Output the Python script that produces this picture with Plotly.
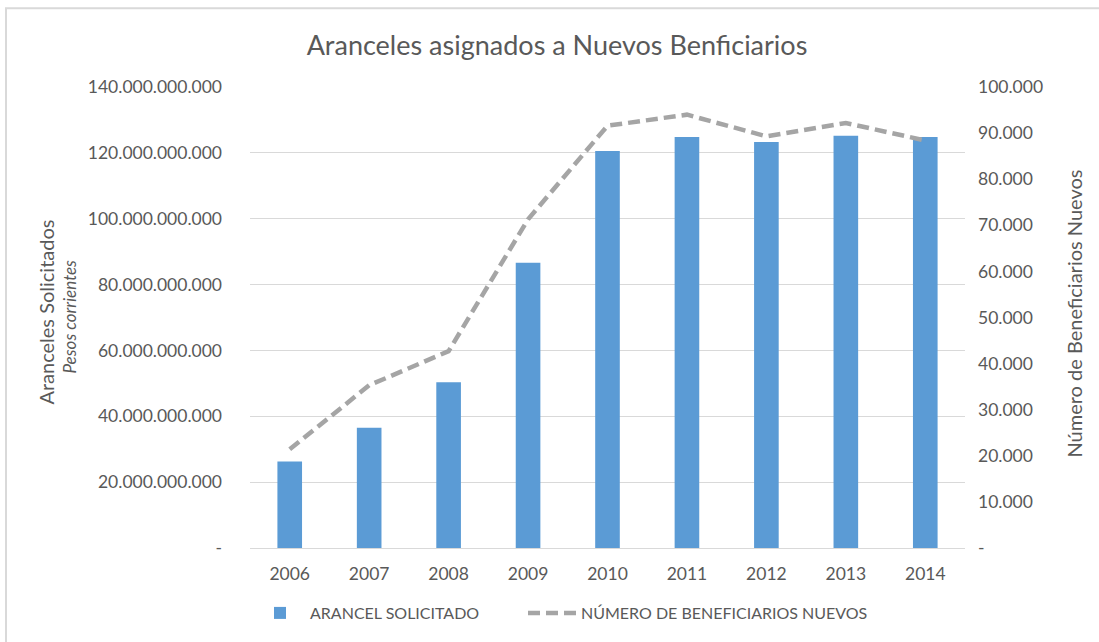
import plotly.graph_objects as go

years = ["2006", "2007", "2008", "2009", "2010", "2011", "2012", "2013", "2014"]
aranceles = [26.3e9, 36.5e9, 50.3e9, 86.6e9, 120.6e9, 124.8e9, 123.3e9, 125.2e9, 124.8e9]
beneficiarios = [21400, 35300, 42700, 71300, 91600, 94000, 89300, 92200, 88400]

left_tickvals = [0, 20e9, 40e9, 60e9, 80e9, 100e9, 120e9, 140e9]
left_ticktext = ["-", "20.000.000.000", "40.000.000.000", "60.000.000.000",
                 "80.000.000.000", "100.000.000.000", "120.000.000.000", "140.000.000.000"]
right_tickvals = [0, 10000, 20000, 30000, 40000, 50000, 60000, 70000, 80000, 90000, 100000]
right_ticktext = ["-", "10.000", "20.000", "30.000", "40.000", "50.000", "60.000",
                  "70.000", "80.000", "90.000", "100.000"]

FONT = "Lato"
TXT = "#595959"
W, H = 1099, 642
L, R, T, B = 250, 965, 87, 555
PW, PH = R - L, B - T


def px(x):
    return (x - L) / PW


def py(y):
    return (B - y) / PH


fig = go.Figure()
fig.add_trace(go.Bar(x=years, y=aranceles, name="ARANCEL SOLICITADO",
                     marker=dict(color="#5b9bd5", line=dict(width=0)), width=0.31,
                     legend="legend"))
fig.add_trace(go.Scatter(x=years, y=beneficiarios, name="NÚMERO DE BENEFICIARIOS NUEVOS",
                         mode="lines", yaxis="y2", legend="legend2",
                         line=dict(color="#a5a5a5", width=4.5, dash="12px,6px")))

fig.update_layout(
    width=W, height=H,
    margin=dict(l=L, r=W - R, t=T, b=H - B),
    paper_bgcolor="white", plot_bgcolor="white",
    font=dict(family=FONT, color=TXT, size=17.5),
    title=dict(text="Aranceles asignados a Nuevos Benficiarios", x=557 / W, xanchor="center",
               y=1 - 46 / H, yanchor="middle", font=dict(size=27, color=TXT, family=FONT)),
    xaxis=dict(showgrid=False, showline=True, linecolor="#d9d9d9", linewidth=1,
               ticks="", tickfont=dict(size=17.5, color=TXT), ticklabelstandoff=10),
    yaxis=dict(range=[0, 140e9], tickmode="array", tickvals=left_tickvals, ticktext=left_ticktext,
               showgrid=True, gridcolor="#d9d9d9", gridwidth=1, zeroline=False,
               ticks="", tickfont=dict(size=17.5, color=TXT), ticklabelstandoff=27),
    yaxis2=dict(range=[0, 100000], overlaying="y", side="right", tickmode="array",
                tickvals=right_tickvals, ticktext=right_ticktext, showgrid=False, zeroline=False,
                ticks="", tickfont=dict(size=17.5, color=TXT), ticklabelstandoff=12),
    legend=dict(orientation="h", x=px(250), xanchor="left", y=py(621), yanchor="middle",
                font=dict(size=16, color=TXT), itemwidth=50, bgcolor="rgba(0,0,0,0)"),
    legend2=dict(orientation="h", x=px(523), xanchor="left", y=py(621), yanchor="middle",
                 font=dict(size=16, color=TXT), itemwidth=48, bgcolor="rgba(0,0,0,0)"),
    showlegend=True,
)

fig.add_annotation(text="Aranceles Solicitados", xref="paper", yref="paper",
                   x=px(46), y=py(316), textangle=-90, showarrow=False,
                   font=dict(size=20, color=TXT, family=FONT), xanchor="center", yanchor="middle")
fig.add_annotation(text="<i>Pesos corrientes</i>", xref="paper", yref="paper",
                   x=px(70), y=py(320), textangle=-90, showarrow=False,
                   font=dict(size=17, color=TXT, family=FONT), xanchor="center", yanchor="middle")
fig.add_annotation(text="Número de Beneficiarios Nuevos", xref="paper", yref="paper",
                   x=px(1074), y=py(317), textangle=-90, showarrow=False,
                   font=dict(size=20, color=TXT, family=FONT), xanchor="center", yanchor="middle")

# outer chart border (left and top visible)
fig.add_shape(type="rect", xref="paper", yref="paper",
              x0=px(6), x1=px(1120), y0=py(660), y1=py(7),
              line=dict(color="#d9d9d9", width=2), fillcolor="rgba(0,0,0,0)", layer="below")

fig.write_html("out.html", config={"displayModeBar": False},
               post_script="document.body.style.margin='0';")
